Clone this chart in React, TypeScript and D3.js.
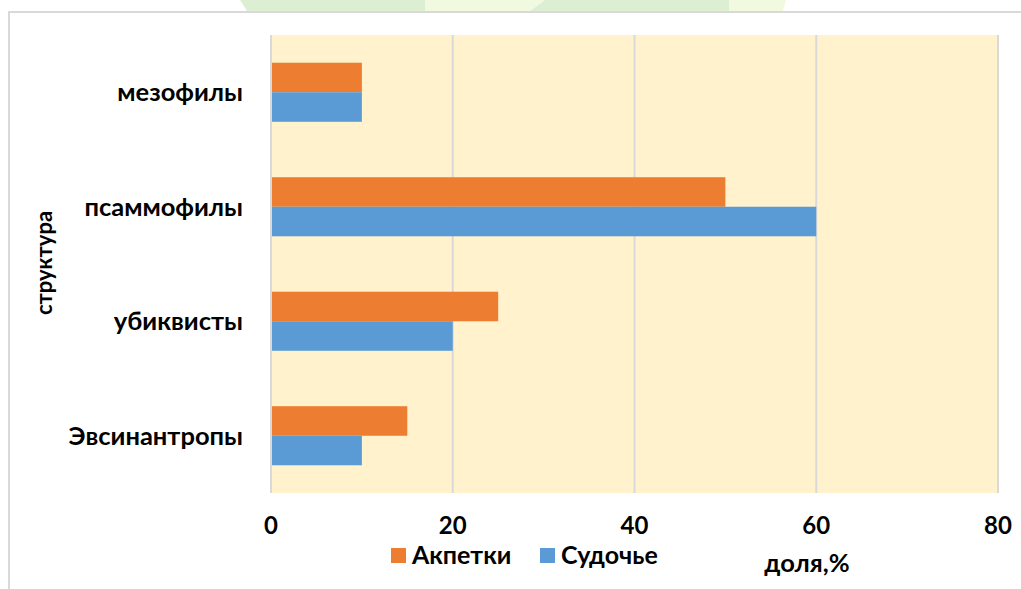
import { useEffect, useRef } from "react";
import * as d3 from "d3";

const categories = ["мезофилы", "псаммофилы", "убиквисты", "Эвсинантропы"];
const seriesNames = ["Акпетки", "Судочье"];
const akpetki = [10, 50, 25, 15];
const sudoche = [10, 60, 20, 10];
const xTicks = [0, 20, 40, 60, 80];
const colors = ["#ED7D31", "#5B9BD5"];

const FONT = "Lato, 'Open Sans', sans-serif";

export default function App() {
  let ref = useRef(null);

  useEffect(() => {
    const pWidth = 1021;
    const pHeight = 589;
    const plot = { left: 271, right: 998, top: 35, bottom: 493 };

    const svg = d3
      .select(ref.current)
      .append("svg")
      .attr("width", pWidth)
      .attr("height", pHeight)
      .style("position", "absolute")
      .style("left", 0)
      .style("top", 0)
      .style("font-family", FONT);

    svg.append("rect").attr("width", pWidth).attr("height", pHeight).attr("fill", "#fff");

    // faint green shape peeking in above the chart frame
    svg.append("path").attr("d", "M240,0 L425,0 L425,11 L247,11 Z").attr("fill", "#DDEFD3");
    svg.append("path").attr("d", "M425,0 L545,0 L530,11 L425,11 Z").attr("fill", "#F1FADF");
    svg.append("path").attr("d", "M545,0 L729,0 L729,11 L530,11 Z").attr("fill", "#DDEFD3");
    svg.append("path").attr("d", "M729,0 L786,0 L783,11 L729,11 Z").attr("fill", "#F1FADF");

    // chart frame
    svg
      .append("path")
      .attr("d", "M9,589 L9,12 L1030,12")
      .attr("fill", "none")
      .attr("stroke", "#D9D9D9")
      .attr("stroke-width", 2);

    const x = d3.scaleLinear().domain([0, 80]).range([plot.left, plot.right]);
    const y = d3
      .scaleBand()
      .domain(categories)
      .range([plot.top, plot.bottom])
      .padding(0);

    svg
      .append("rect")
      .attr("x", plot.left)
      .attr("y", plot.top)
      .attr("width", plot.right - plot.left)
      .attr("height", plot.bottom - plot.top)
      .attr("fill", "#FFF2CC");

    // vertical gridlines
    svg
      .selectAll(".grid")
      .data(xTicks)
      .enter()
      .append("line")
      .attr("x1", (d) => x(d))
      .attr("x2", (d) => x(d))
      .attr("y1", plot.top)
      .attr("y2", plot.bottom)
      .attr("stroke", "#D9D9D9")
      .attr("stroke-width", 2);

    const step = y.bandwidth();
    const barH = step * 0.258;
    const offset = (step - 2 * barH) / 2;

    const rows = categories.map((c, i) => ({ cat: c, values: [akpetki[i], sudoche[i]] }));

    const g = svg
      .selectAll(".row")
      .data(rows)
      .enter()
      .append("g")
      .attr("transform", (d) => "translate(0," + (y(d.cat) + offset) + ")");

    g.selectAll("rect")
      .data((d) => d.values)
      .enter()
      .append("rect")
      .attr("x", x(0) + 1)
      .attr("y", (d, i) => i * barH)
      .attr("width", (d) => x(d) - x(0) - 1)
      .attr("height", barH)
      .attr("fill", (d, i) => colors[i]);

    // category labels
    svg
      .selectAll(".cat")
      .data(categories)
      .enter()
      .append("text")
      .attr("x", 243)
      .attr("y", (d) => y(d) + step / 2)
      .attr("dy", "0.35em")
      .attr("text-anchor", "end")
      .style("font-size", "25.5px")
      .style("font-weight", "bold")
      .text((d) => d);

    // x tick labels
    svg
      .selectAll(".tick")
      .data(xTicks)
      .enter()
      .append("text")
      .attr("x", (d) => x(d))
      .attr("y", 534)
      .attr("text-anchor", "middle")
      .style("font-size", "24px")
      .style("font-weight", "bold")
      .text((d) => d);

    // legend
    const legendX = [391, 540];
    const legend = svg
      .selectAll(".legend")
      .data(seriesNames)
      .enter()
      .append("g")
      .attr("transform", (d, i) => "translate(" + legendX[i] + ",548)");
    legend
      .append("rect")
      .attr("width", 15)
      .attr("height", 15)
      .attr("fill", (d, i) => colors[i]);
    legend
      .append("text")
      .attr("x", 21)
      .attr("y", 16)
      .style("font-size", "25px")
      .style("font-weight", "bold")
      .text((d) => d);

    // axis titles
    svg
      .append("text")
      .attr("x", 807)
      .attr("y", 572)
      .attr("text-anchor", "middle")
      .style("font-size", "25.5px")
      .style("font-weight", "bold")
      .text("доля,%");

    svg
      .append("text")
      .attr("transform", "translate(52,263) rotate(-90)")
      .attr("text-anchor", "middle")
      .style("font-size", "22px")
      .style("font-weight", "bold")
      .text("структура");

    return () => {
      d3.select(ref.current).selectAll("*").remove();
    };
  });

  return <div ref={ref} />;
}
